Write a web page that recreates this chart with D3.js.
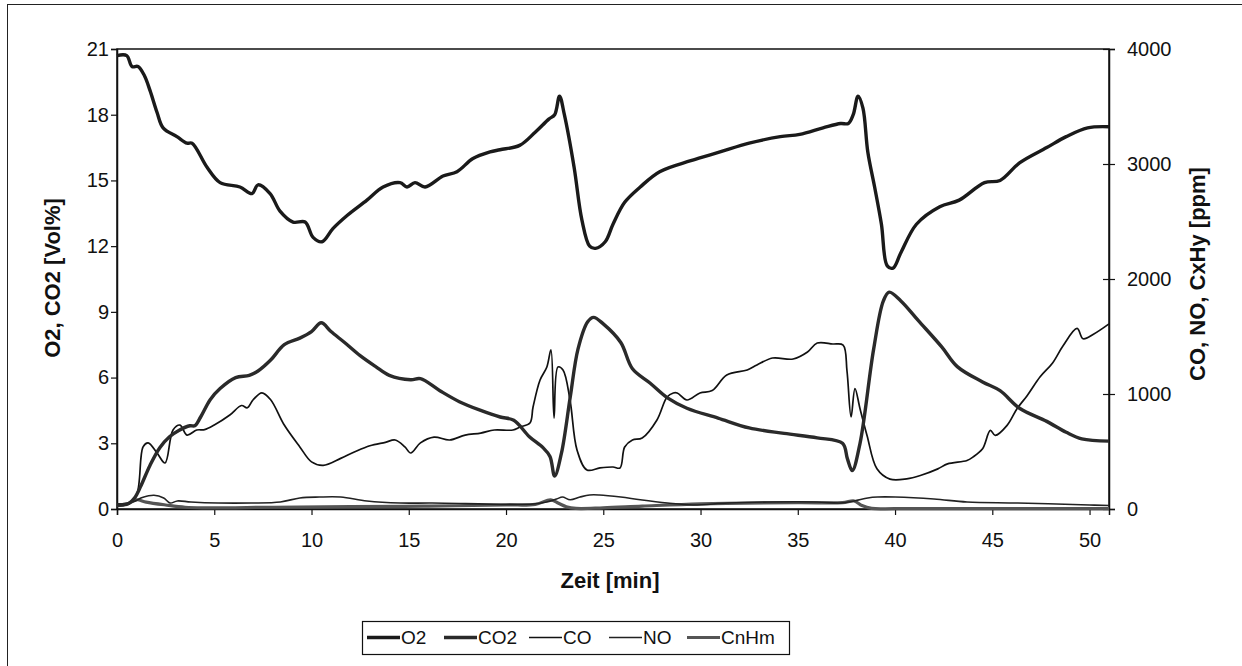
<!DOCTYPE html>
<html><head><meta charset="utf-8">
<script src="https://cdn.jsdelivr.net/npm/d3@7"></script>
<style>
html,body{margin:0;padding:0;background:#fff;}
svg{display:block;font-family:"Liberation Sans",Arial,sans-serif;}
</style></head>
<body>
<svg id="c" width="1242" height="666"></svg>
<script>
// ---- data (time in min, values: O2/CO2 in Vol%, others in ppm) ----
const o2 = [[0,20.7],[0.5,20.7],[0.77,20.2],[1.08,20.2],[1.4,19.8],[1.7,19.1],[2.06,18.1],[2.37,17.4],[3.08,17.0],[3.6,16.7],[3.86,16.7],[4.63,15.6],[5.3,14.9],[6.32,14.7],[6.94,14.4],[7.25,14.8],[7.87,14.4],[8.38,13.6],[9.05,13.1],[9.67,13.1],[10.08,12.4],[10.54,12.2],[11.1,12.8],[11.83,13.4],[12.85,14.1],[13.68,14.7],[14.55,14.9],[14.91,14.7],[15.32,14.9],[15.84,14.7],[16.76,15.2],[17.48,15.4],[18.3,16.0],[19.18,16.3],[19.69,16.4],[20.7,16.6],[21.5,17.2],[22.2,17.8],[22.5,18.0],[22.75,18.85],[23.0,18.0],[23.5,15.6],[23.9,13.2],[24.3,12.0],[24.6,11.9],[25.1,12.2],[25.5,13.0],[26.1,14.0],[26.9,14.7],[27.9,15.4],[29.5,15.9],[31,16.3],[32.5,16.7],[34.1,17.0],[35.1,17.1],[36.3,17.4],[37.2,17.6],[37.6,17.6],[37.85,18.0],[38.1,18.85],[38.35,18.3],[38.6,16.3],[38.95,14.7],[39.3,13.0],[39.6,11.1],[39.9,11.0],[40.3,11.7],[41.1,13.0],[42.3,13.8],[43.3,14.1],[44.6,14.9],[45.4,15.0],[46.4,15.8],[47.8,16.5],[48.8,17.0],[49.9,17.4],[51,17.45]];
const co2 = [[0,0.2],[0.6,0.25],[0.9,0.5],[1.2,1.0],[1.7,2.0],[2.2,2.8],[2.7,3.3],[3.2,3.6],[3.75,3.8],[4.0,3.8],[4.3,4.2],[4.8,5.0],[5.3,5.5],[6.1,6.0],[6.8,6.1],[7.25,6.3],[7.9,6.8],[8.6,7.5],[9.4,7.8],[10.0,8.1],[10.5,8.5],[11.0,8.1],[11.7,7.6],[12.5,7.0],[13.3,6.5],[14.0,6.1],[15.1,5.9],[15.6,5.95],[16.6,5.4],[17.6,4.9],[18.7,4.5],[19.7,4.2],[20.4,4.05],[21.2,3.3],[21.9,2.8],[22.26,2.4],[22.5,1.5],[22.85,2.55],[23.3,5.1],[23.7,7.3],[24.2,8.55],[24.5,8.75],[25.0,8.45],[25.9,7.6],[26.5,6.4],[27.4,5.75],[28.3,5.07],[29.3,4.6],[30.9,4.15],[32.5,3.7],[34.3,3.45],[36.0,3.25],[37.3,3.0],[37.55,2.3],[37.8,1.75],[38.2,3.0],[38.9,7.3],[39.4,9.5],[39.7,9.9],[40.3,9.5],[41.2,8.6],[42.4,7.4],[43.2,6.5],[44.5,5.8],[45.4,5.4],[46.4,4.6],[47.8,4.0],[48.8,3.5],[49.6,3.2],[51,3.1]];
const co = [[0,30],[0.5,40],[1.0,120],[1.34,540],[1.6,575],[2.06,487],[2.47,400],[2.88,687],[3.24,730],[3.6,643],[4.1,687],[4.5,690],[5.0,730],[5.8,817],[6.4,900],[6.7,880],[7.0,950],[7.45,1010],[7.9,950],[8.6,730],[9.4,540],[10.0,410],[10.6,380],[11.5,440],[12.2,495],[13.0,550],[13.8,580],[14.3,600],[14.8,540],[15.1,487],[15.6,575],[16.3,625],[17.1,600],[17.9,643],[18.7,660],[19.4,687],[20.36,687],[20.72,713],[21.23,748],[21.39,887],[21.75,1122],[22.1,1235],[22.31,1383],[22.47,791],[22.67,1235],[22.93,1209],[23.29,948],[23.65,513],[24.16,339],[24.83,357],[25.5,365],[25.86,357],[26.1,539],[26.5,600],[27.0,617],[27.76,774],[28.28,974],[28.6,1009],[28.8,1009],[29.3,948],[29.97,1009],[30.6,1030],[31.35,1165],[32.4,1209],[32.9,1252],[33.7,1313],[34.76,1304],[35.5,1365],[36.0,1443],[36.8,1435],[37.33,1426],[37.53,1200],[37.74,800],[37.94,1047],[38.2,872],[38.56,640],[39.07,350],[39.74,260],[40.6,262],[41.3,291],[42.2,349],[42.7,392],[43.7,422],[44.0,451],[44.5,523],[44.9,683],[45.15,640],[45.76,727],[46.27,872],[46.8,988],[47.46,1150],[48.1,1270],[48.64,1420],[49.36,1570],[49.67,1480],[50.2,1520],[51,1610]];
const no = [[0,40],[0.8,60],[1.3,100],[1.9,120],[2.4,96],[2.73,52],[3.1,70],[3.8,61],[5.2,52],[6.9,52],[8.4,61],[9.4,96],[10.4,104],[11.5,104],[12.85,70],[14.55,52],[16.2,52],[21.4,43],[22.1,61],[22.6,87],[22.9,104],[23.3,80],[23.8,104],[24.3,122],[24.8,122],[25.9,104],[26.9,80],[28.3,52],[29.6,35],[31.4,52],[33.5,61],[36,61],[37.2,52],[37.9,70],[38.6,96],[39.1,104],[40,104],[42.0,87],[43.7,61],[46.3,52],[50,35],[51,30]];
const cnhm = [[0,30],[0.5,40],[1.0,80],[1.5,60],[2.5,35],[3.5,15],[4.5,10],[8,15],[12,20],[16,25],[20,35],[21.5,40],[22.3,80],[22.7,50],[23.1,20],[23.6,5],[25,10],[27,25],[30,45],[35,55],[37.3,55],[37.9,70],[38.3,30],[38.8,5],[40,3],[45,3],[51,3]];

const xTicks = [0,5,10,15,20,25,30,35,40,45,50];
const yLeftTicks = [0,3,6,9,12,15,18,21];
const yRightTicks = [0,1000,2000,3000,4000];
const seriesNames = ["O2","CO2","CO","NO","CnHm"];

// ---- layout ----
const svg = d3.select("#c");
const L = 117, R = 1109, T = 49, B = 509;
const x = d3.scaleLinear().domain([0,51]).range([L,R]);
const yL = d3.scaleLinear().domain([0,21]).range([B,T]);
const yR = d3.scaleLinear().domain([0,4000]).range([B,T]);
const FONT = "'Liberation Sans',Arial,sans-serif";

// outer frame (extends beyond page at right/bottom)
svg.append("rect").attr("x",7.5).attr("y",4.5).attr("width",1400).attr("height",800)
  .attr("fill","none").attr("stroke","#222").attr("stroke-width",1);

// plot frame
svg.append("rect").attr("x",L).attr("y",T).attr("width",R-L).attr("height",B-T)
  .attr("fill","none").attr("stroke","#111").attr("stroke-width",1.5);

const fs = 20;
const gx = svg.append("g").attr("transform",`translate(0,${B})`)
  .call(d3.axisBottom(x).tickValues(xTicks).tickSize(6).tickPadding(18).tickFormat(d3.format("d")));
const gl = svg.append("g").attr("transform",`translate(${L},0)`)
  .call(d3.axisLeft(yL).tickValues(yLeftTicks).tickSize(6).tickPadding(2).tickFormat(d3.format("d")));
const gr = svg.append("g").attr("transform",`translate(${R},0)`)
  .call(d3.axisRight(yR).tickValues(yRightTicks).tickSize(6).tickPadding(12).tickFormat(d3.format("d")));
gr.selectAll(".tick line").attr("x1",-6);
[gx,gl,gr].forEach(g=>{
  g.select(".domain").attr("stroke","#111").attr("stroke-width",1.5);
  g.selectAll(".tick line").attr("stroke","#111").attr("stroke-width",1.2);
  g.selectAll("text").attr("font-size",fs).attr("fill","#111").attr("font-family",FONT);
});

// axis titles
svg.append("text").attr("x",610).attr("y",588).attr("text-anchor","middle")
  .attr("font-size",22).attr("font-weight","bold").attr("fill","#111").text("Zeit [min]");
svg.append("text").attr("transform",`translate(60,278) rotate(-90)`).attr("text-anchor","middle")
  .attr("font-size",22).attr("font-weight","bold").attr("fill","#111").text("O2, CO2 [Vol%]");
svg.append("text").attr("transform",`translate(1205,274) rotate(-90)`).attr("text-anchor","middle")
  .attr("font-size",22).attr("font-weight","bold").attr("fill","#111").text("CO, NO, CxHy [ppm]");

// lines
const curve = d3.curveCatmullRom.alpha(0.5);
const lineL = d3.line().x(d=>x(d[0])).y(d=>yL(d[1])).curve(curve);
const lineR = d3.line().x(d=>x(d[0])).y(d=>yR(d[1])).curve(curve);
const styles = {
  O2:{w:3.4,c:"#1a1a1a"}, CO2:{w:3.4,c:"#2a2a2a"}, CO:{w:1.7,c:"#111"}, NO:{w:1.6,c:"#222"}, CnHm:{w:3.2,c:"#555"}
};
const plotG = svg.append("g");
plotG.append("path").datum(cnhm).attr("d",lineR).attr("fill","none").attr("stroke",styles.CnHm.c).attr("stroke-width",styles.CnHm.w);
plotG.append("path").datum(no).attr("d",lineR).attr("fill","none").attr("stroke",styles.NO.c).attr("stroke-width",styles.NO.w);
plotG.append("path").datum(co).attr("d",lineR).attr("fill","none").attr("stroke",styles.CO.c).attr("stroke-width",styles.CO.w).attr("stroke-linejoin","round");
plotG.append("path").datum(co2).attr("d",lineL).attr("fill","none").attr("stroke",styles.CO2.c).attr("stroke-width",styles.CO2.w).attr("stroke-linejoin","round");
plotG.append("path").datum(o2).attr("d",lineL).attr("fill","none").attr("stroke",styles.O2.c).attr("stroke-width",styles.O2.w).attr("stroke-linejoin","round");

// legend
const lgX = 362, lgY = 621, lgW = 427, lgH = 33;
svg.append("rect").attr("x",lgX+0.5).attr("y",lgY+0.5).attr("width",lgW).attr("height",lgH)
  .attr("fill","#fff").attr("stroke","#111").attr("stroke-width",1.2);
const itemX = [367, 444, 529, 609, 687];
seriesNames.forEach((n,i)=>{
  const st = styles[n];
  svg.append("line").attr("x1",itemX[i]).attr("x2",itemX[i]+33).attr("y1",637.5).attr("y2",637.5)
    .attr("stroke",st.c).attr("stroke-width",st.w);
  svg.append("text").attr("x",itemX[i]+34).attr("y",644).attr("font-size",19).attr("fill","#111").attr("font-family",FONT).text(n);
});
</script>
</body></html>
